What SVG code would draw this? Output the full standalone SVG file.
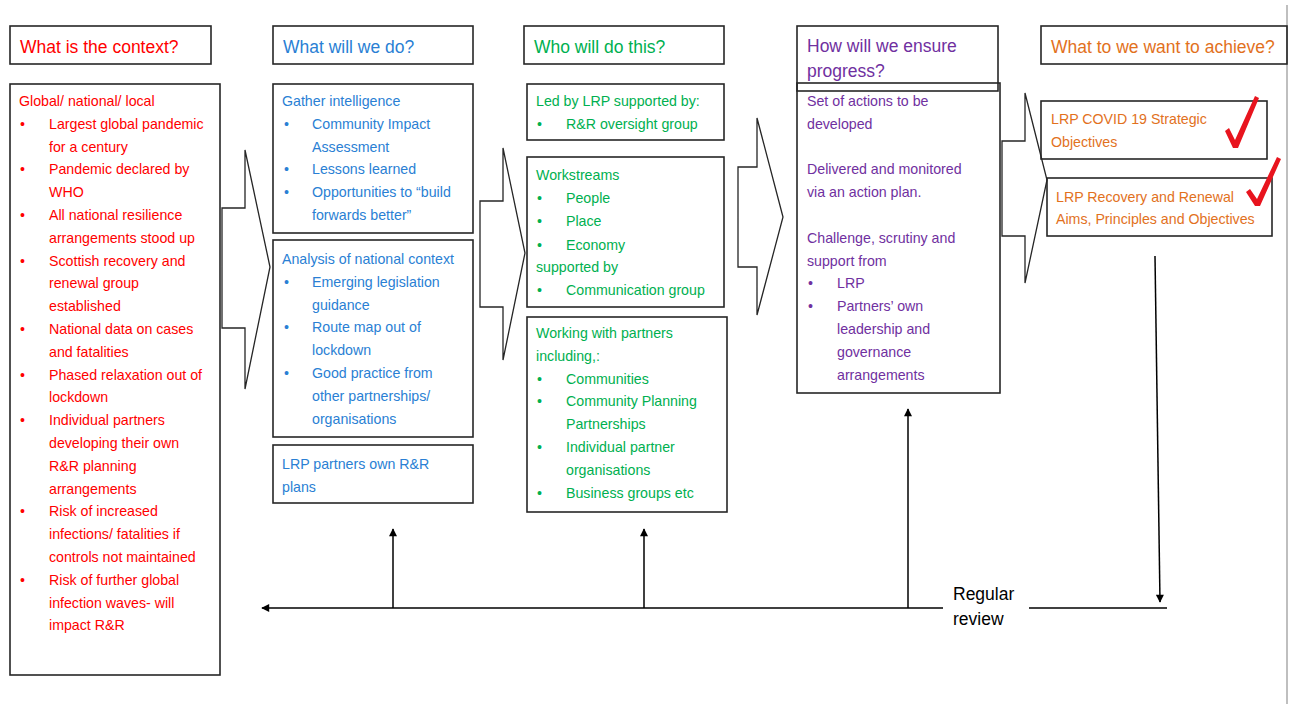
<svg xmlns="http://www.w3.org/2000/svg" width="1291" height="704" viewBox="0 0 1291 704">
  <style>
    .box { fill: none; stroke: #262626; stroke-width: 1.6; }
    .blk { fill: #ffffff; stroke: #262626; stroke-width: 1.3; stroke-linejoin: miter; }
    .hd { font-family: "Liberation Sans", Arial, sans-serif; font-size: 17.5px; }
    .tx { font-family: "Liberation Sans", Arial, sans-serif; font-size: 14.2px; }
    .red { fill: #ff0000; }
    .blue { fill: #2a7fd4; }
    .green { fill: #00b050; }
    .purple { fill: #7030a0; }
    .orange { fill: #e2711d; }
    .conn { stroke: #000000; stroke-width: 1.5; fill: none; }
    .tick { fill: #e8141e; }
  </style>
  <defs>
    <marker id="ah" viewBox="0 0 10 10" refX="9" refY="5" markerWidth="9" markerHeight="8" markerUnits="userSpaceOnUse" orient="auto">
      <path d="M0,0 L10,5 L0,10 Z" fill="#000000"/>
    </marker>
  </defs>

  <rect x="0" y="0" width="1291" height="704" fill="#ffffff"/>
  <!-- page edge -->
  <line x1="1287" y1="5" x2="1287" y2="704" stroke="#bfbfbf" stroke-width="2"/>

  <!-- block arrows between columns -->
  <g id="flow-arrows">
    <polygon class="blk" points="222,208 245,208 245,150 270,267 245,389 245,328 222,328"/>
    <polygon class="blk" points="480,201 503,201 503,148 525,253 503,360 503,307 480,307"/>
    <polygon class="blk" points="738,167 757,167 757,118 783,217 757,315 757,267 738,267"/>
    <polygon class="blk" points="1002,141 1025,141 1025,93 1047,180 1025,283 1025,236 1002,236"/>
  </g>

  <!-- column 1: context -->
  <g id="head-context">
    <rect class="box" x="10" y="26" width="201" height="38"/>
    <text class="hd red" x="20" y="53">What is the context?</text>
  </g>
  <g id="context">
    <rect class="box" x="10" y="84" width="210" height="591"/>
    <g class="tx red">
      <text x="19" y="106">Global/ national/ local</text>
      <text x="20" y="128.8">•</text><text x="49" y="128.8">Largest global pandemic</text>
      <text x="49" y="151.6">for a century</text>
      <text x="20" y="174.4">•</text><text x="49" y="174.4">Pandemic declared by</text>
      <text x="49" y="197.2">WHO</text>
      <text x="20" y="220">•</text><text x="49" y="220">All national resilience</text>
      <text x="49" y="242.8">arrangements stood up</text>
      <text x="20" y="265.6">•</text><text x="49" y="265.6">Scottish recovery and</text>
      <text x="49" y="288.4">renewal group</text>
      <text x="49" y="311.2">established</text>
      <text x="20" y="334">•</text><text x="49" y="334">National data on cases</text>
      <text x="49" y="356.8">and fatalities</text>
      <text x="20" y="379.6">•</text><text x="49" y="379.6">Phased relaxation out of</text>
      <text x="49" y="402.4">lockdown</text>
      <text x="20" y="425.2">•</text><text x="49" y="425.2">Individual partners</text>
      <text x="49" y="448">developing their own</text>
      <text x="49" y="470.8">R&amp;R planning</text>
      <text x="49" y="493.6">arrangements</text>
      <text x="20" y="516.4">•</text><text x="49" y="516.4">Risk of increased</text>
      <text x="49" y="539.2">infections/ fatalities if</text>
      <text x="49" y="562">controls not maintained</text>
      <text x="20" y="584.8">•</text><text x="49" y="584.8">Risk of further global</text>
      <text x="49" y="607.6">infection waves- will</text>
      <text x="49" y="630.4">impact R&amp;R</text>
    </g>
  </g>

  <!-- column 2: actions -->
  <g id="head-do">
    <rect class="box" x="273" y="26" width="200" height="38"/>
    <text class="hd blue" x="283" y="53">What will we do?</text>
  </g>
  <g id="gather">
    <rect class="box" x="273" y="84" width="200" height="149"/>
    <g class="tx blue">
      <text x="282" y="106">Gather intelligence</text>
      <text x="284" y="128.8">•</text><text x="312" y="128.8">Community Impact</text>
      <text x="312" y="151.6">Assessment</text>
      <text x="284" y="174.4">•</text><text x="312" y="174.4">Lessons learned</text>
      <text x="284" y="197.2">•</text><text x="312" y="197.2">Opportunities to “build</text>
      <text x="312" y="220">forwards better”</text>
    </g>
  </g>
  <g id="analysis">
    <rect class="box" x="273" y="240" width="200" height="197"/>
    <g class="tx blue">
      <text x="282" y="264">Analysis of national context</text>
      <text x="284" y="286.8">•</text><text x="312" y="286.8">Emerging legislation</text>
      <text x="312" y="309.6">guidance</text>
      <text x="284" y="332.4">•</text><text x="312" y="332.4">Route map out of</text>
      <text x="312" y="355.2">lockdown</text>
      <text x="284" y="378">•</text><text x="312" y="378">Good practice from</text>
      <text x="312" y="400.8">other partnerships/</text>
      <text x="312" y="423.6">organisations</text>
    </g>
  </g>
  <g id="partner-plans">
    <rect class="box" x="273" y="445" width="200" height="58"/>
    <g class="tx blue">
      <text x="282" y="469">LRP partners own R&amp;R</text>
      <text x="282" y="491.5">plans</text>
    </g>
  </g>

  <!-- column 3: who -->
  <g id="head-who">
    <rect class="box" x="524" y="26" width="200" height="38"/>
    <text class="hd green" x="534" y="53">Who will do this?</text>
  </g>
  <g id="led-by">
    <rect class="box" x="527" y="84" width="197" height="56"/>
    <g class="tx green">
      <text x="536" y="106">Led by LRP supported by:</text>
      <text x="537" y="128.8">•</text><text x="566" y="128.8">R&amp;R oversight group</text>
    </g>
  </g>
  <g id="workstreams">
    <rect class="box" x="527" y="157" width="197" height="150"/>
    <g class="tx green">
      <text x="536" y="180">Workstreams</text>
      <text x="537" y="203">•</text><text x="566" y="203">People</text>
      <text x="537" y="225.8">•</text><text x="566" y="225.8">Place</text>
      <text x="537" y="249.5">•</text><text x="566" y="249.5">Economy</text>
      <text x="536" y="272.3">supported by</text>
      <text x="537" y="295">•</text><text x="566" y="295">Communication group</text>
    </g>
  </g>
  <g id="partners">
    <rect class="box" x="527" y="317" width="200" height="195"/>
    <g class="tx green">
      <text x="536" y="338">Working with partners</text>
      <text x="536" y="360.8">including,:</text>
      <text x="537" y="383.6">•</text><text x="566" y="383.6">Communities</text>
      <text x="537" y="406.4">•</text><text x="566" y="406.4">Community Planning</text>
      <text x="566" y="429.2">Partnerships</text>
      <text x="537" y="452">•</text><text x="566" y="452">Individual partner</text>
      <text x="566" y="474.8">organisations</text>
      <text x="537" y="497.6">•</text><text x="566" y="497.6">Business groups etc</text>
    </g>
  </g>

  <!-- column 4: progress -->
  <g id="progress">
    <rect class="box" x="797" y="83" width="203" height="310"/>
    <g class="tx purple">
      <text x="807" y="106">Set of actions to be</text>
      <text x="807" y="128.8">developed</text>
      <text x="807" y="174.4">Delivered and monitored</text>
      <text x="807" y="197.2">via an action plan.</text>
      <text x="807" y="242.8">Challenge, scrutiny and</text>
      <text x="807" y="265.6">support from</text>
      <text x="808" y="288.4">•</text><text x="837" y="288.4">LRP</text>
      <text x="808" y="311.2">•</text><text x="837" y="311.2">Partners’ own</text>
      <text x="837" y="334">leadership and</text>
      <text x="837" y="356.8">governance</text>
      <text x="837" y="379.6">arrangements</text>
    </g>
  </g>
  <g id="head-progress">
    <rect class="box" x="797" y="26" width="201" height="65"/>
    <text class="hd purple" x="807" y="52">How will we ensure</text>
    <text class="hd purple" x="807" y="77">progress?</text>
  </g>

  <!-- column 5: outcomes -->
  <g id="head-achieve">
    <rect class="box" x="1041" y="26" width="246" height="38"/>
    <text class="hd orange" x="1051" y="53">What to we want to achieve?</text>
  </g>
  <g id="strategic-objectives">
    <rect class="box" x="1041" y="101" width="226" height="58"/>
    <g class="tx orange">
      <text x="1051" y="124">LRP COVID 19 Strategic</text>
      <text x="1051" y="147">Objectives</text>
    </g>
    <path class="tick" d="M1225,131 L1229,128 L1235,140 L1255,96 L1259,98 L1238,148 L1233,148 Z"/>
  </g>
  <g id="renewal-aims">
    <rect class="box" x="1047" y="178" width="225" height="58"/>
    <g class="tx orange">
      <text x="1056" y="202">LRP Recovery and Renewal</text>
      <text x="1056" y="224">Aims, Principles and Objectives</text>
    </g>
    <path class="tick" d="M1246,192 L1250,189 L1257,199 L1277,157 L1281,159 L1260,206 L1255,206 Z"/>
  </g>

  <!-- review loop -->
  <g id="connectors">
    <line class="conn" x1="943" y1="608" x2="262" y2="608" marker-end="url(#ah)"/>
    <line class="conn" x1="1029" y1="608" x2="1167" y2="608"/>
    <line class="conn" x1="393" y1="608" x2="393" y2="529" marker-end="url(#ah)"/>
    <line class="conn" x1="644" y1="608" x2="644" y2="529" marker-end="url(#ah)"/>
    <line class="conn" x1="908" y1="608" x2="908" y2="409" marker-end="url(#ah)"/>
    <line class="conn" x1="1155" y1="256" x2="1160" y2="602" marker-end="url(#ah)"/>
  </g>
  <g id="review-label" class="hd" fill="#000000">
    <text x="953" y="600">Regular</text>
    <text x="953" y="625">review</text>
  </g>
</svg>
